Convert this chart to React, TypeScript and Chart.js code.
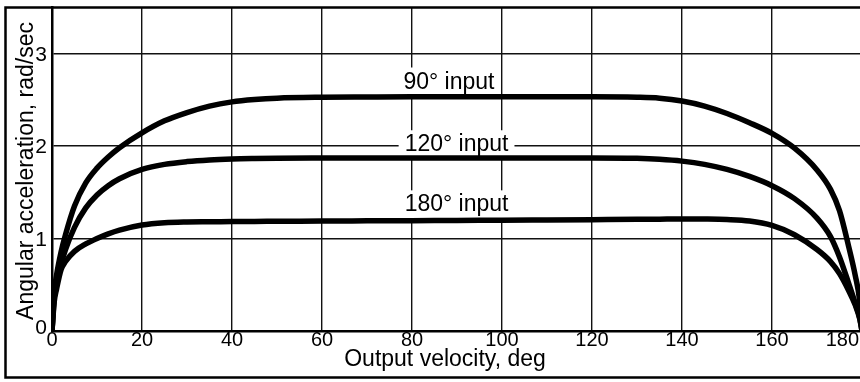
import React, { useEffect, useRef } from "react";
import { Chart, registerables } from "chart.js";

Chart.register(...registerables);

// Output velocity (deg) sample points shared by all curves
const X_DEG = [0, 0.5, 1, 2, 3, 5, 7.5, 10, 12.5, 15, 20, 25, 30, 35, 40, 45, 50, 60, 70, 80, 90, 100, 110, 120, 130, 135, 140, 145, 150, 155, 160, 165, 170, 173, 175, 177, 178.5, 179.5, 180];

// Angular acceleration, rad/sec
const ACC_90 = [0, 0.42, 0.6, 0.85, 1.04, 1.35, 1.6, 1.76, 1.88, 1.98, 2.14, 2.27, 2.36, 2.43, 2.475, 2.5, 2.515, 2.525, 2.528, 2.53, 2.53, 2.53, 2.53, 2.53, 2.525, 2.515, 2.485, 2.43, 2.35, 2.25, 2.135, 1.975, 1.74, 1.53, 1.3, 0.92, 0.6, 0.32, 0];
const ACC_120 = [0, 0.36, 0.51, 0.72, 0.88, 1.12, 1.33, 1.47, 1.57, 1.645, 1.745, 1.8, 1.83, 1.848, 1.858, 1.863, 1.866, 1.868, 1.869, 1.87, 1.87, 1.87, 1.87, 1.87, 1.865, 1.855, 1.835, 1.8, 1.745, 1.67, 1.57, 1.43, 1.22, 1.02, 0.8, 0.52, 0.3, 0.14, 0];
const ACC_180 = [0, 0.32, 0.45, 0.66, 0.75, 0.86, 0.94, 1.0, 1.05, 1.09, 1.145, 1.17, 1.178, 1.18, 1.182, 1.184, 1.185, 1.188, 1.19, 1.192, 1.195, 1.197, 1.2, 1.203, 1.206, 1.208, 1.21, 1.209, 1.204, 1.188, 1.14, 1.04, 0.88, 0.75, 0.62, 0.44, 0.28, 0.13, 0];

const X_TICKS = [0, 20, 40, 60, 80, 100, 120, 140, 160, 180];
const Y_TICKS = [0, 1, 2, 3];
const X_MIN = 0;
const X_MAX = 180;
const Y_MIN = 0;
const Y_MAX = 3.5;

const CURVE_LABELS = ["90° input", "120° input", "180° input"];
const LABEL_X = [88.2, 89.9, 89.9];
const LABEL_Y = [2.706, 2.028, 1.379];

const X_TITLE = "Output velocity, deg";
const Y_TITLE = "Angular acceleration, rad/sec";

const FONT = '"Liberation Sans", Arial, sans-serif';
const INK = "#000";

const textPlugin = {
  id: "engTexts",
  beforeDatasetsDraw(chart: any) {
    const { ctx, scales } = chart;
    const xs = scales.x;
    const ys = scales.y;
    ctx.save();
    ctx.font = `23px ${FONT}`;
    ctx.textAlign = "center";
    ctx.textBaseline = "alphabetic";
    CURVE_LABELS.forEach((t, i) => {
      const cx = xs.getPixelForValue(LABEL_X[i]);
      const cy = ys.getPixelForValue(LABEL_Y[i]);
      const w = ctx.measureText(t).width;
      ctx.fillStyle = "#fff";
      ctx.fillRect(cx - w / 2 - 6, cy - 13, w + 12, 28);
      ctx.fillStyle = INK;
      ctx.fillText(t, cx, cy + 8);
    });
    ctx.restore();
  },
  afterDraw(chart: any) {
    const { ctx, scales, chartArea } = chart;
    const xs = scales.x;
    const ys = scales.y;
    ctx.save();
    ctx.fillStyle = INK;
    // x tick labels
    ctx.font = `20px ${FONT}`;
    ctx.textAlign = "center";
    ctx.textBaseline = "alphabetic";
    X_TICKS.forEach((v) => {
      const t = String(v);
      const w = ctx.measureText(t).width;
      let px = xs.getPixelForValue(v);
      px = Math.min(px, 859 - w / 2);
      ctx.fillText(t, px, chartArea.bottom + 14.5);
    });
    // y tick labels
    ctx.font = `21px ${FONT}`;
    ctx.textAlign = "right";
    Y_TICKS.forEach((v) => {
      const py = Math.min(ys.getPixelForValue(v), chartArea.bottom - 5);
      ctx.fillText(String(v), chartArea.left - 5, py + 7.5);
    });
    // x title
    ctx.font = `23px ${FONT}`;
    ctx.textAlign = "center";
    ctx.fillText(X_TITLE, chartArea.left + 393, chartArea.bottom + 35);
    // y title
    ctx.save();
    ctx.translate(chartArea.left - 19, (chartArea.top + chartArea.bottom) / 2 + 2);
    ctx.rotate(-Math.PI / 2);
    ctx.textAlign = "center";
    ctx.fillText(Y_TITLE, 0, 0);
    ctx.restore();
    // outer frame
    ctx.strokeStyle = INK;
    ctx.lineWidth = 2.5;
    ctx.beginPath();
    ctx.moveTo(chart.width, chartArea.top + 0.5);
    ctx.lineTo(5.5, chartArea.top + 0.5);
    ctx.lineTo(5.5, 377.5);
    ctx.lineTo(chart.width, 377.5);
    ctx.stroke();
    ctx.restore();
  },
};

export default function App() {
  const ref = useRef<HTMLCanvasElement | null>(null);
  useEffect(() => {
    if (!ref.current) return;
    const mk = (ys: number[]) => X_DEG.map((x, i) => ({ x, y: ys[i] }));
    const ds = (label: string, ys: number[]) => ({
      label,
      data: mk(ys),
      borderColor: INK,
      borderWidth: 5.5,
      pointRadius: 0,
      fill: false,
      cubicInterpolationMode: "monotone" as const,
      borderCapStyle: "round" as const,
      borderJoinStyle: "round" as const,
    });
    const chart = new Chart(ref.current, {
      type: "line",
      data: {
        datasets: [ds(CURVE_LABELS[0], ACC_90), ds(CURVE_LABELS[1], ACC_120), ds(CURVE_LABELS[2], ACC_180)],
      },
      options: {
        responsive: false,
        devicePixelRatio: 1,
        animation: false,
        layout: { padding: { left: 52, top: 7, right: 4, bottom: 51 } },
        plugins: { legend: { display: false }, tooltip: { enabled: false } },
        scales: {
          x: {
            type: "linear",
            min: X_MIN,
            max: X_MAX,
            afterBuildTicks: (s: any) => {
              s.ticks = X_TICKS.map((value) => ({ value }));
            },
            afterFit: (s: any) => {
              s.height = 0;
            },
            ticks: { display: false },
            grid: { color: "#111", lineWidth: 1.4, drawTicks: false },
            border: { display: true, color: INK, width: 2.5 },
          },
          y: {
            type: "linear",
            min: Y_MIN,
            max: Y_MAX,
            afterBuildTicks: (s: any) => {
              s.ticks = Y_TICKS.map((value) => ({ value }));
            },
            afterFit: (s: any) => {
              s.width = 0;
            },
            ticks: { display: false },
            grid: { color: "#111", lineWidth: 1.4, drawTicks: false },
            border: { display: true, color: INK, width: 2.5 },
          },
        },
      },
      plugins: [textPlugin],
    });
    return () => chart.destroy();
  }, []);
  return (
    <div
      style={{
        position: "fixed",
        left: 0,
        top: 0,
        width: 860,
        height: 382,
        overflow: "hidden",
        background: "#fff",
      }}
    >
      <canvas ref={ref} width={866} height={382} style={{ display: "block" }} />
    </div>
  );
}
